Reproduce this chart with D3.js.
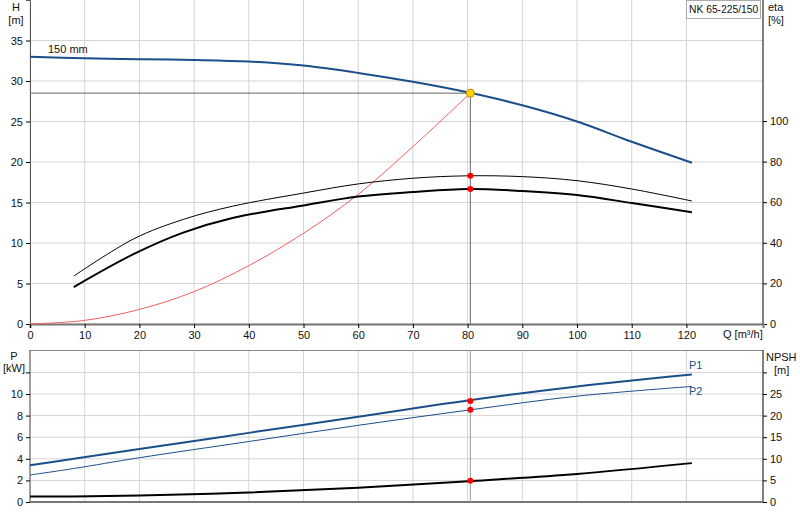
<!DOCTYPE html><html><head><meta charset="utf-8"><script src="https://cdn.jsdelivr.net/npm/d3@7"></script>
<style>body{margin:0;background:#fff}text{font-family:Arial,"Liberation Sans",sans-serif;font-size:11px;fill:#111}</style></head><body><svg id="c" width="800" height="520"></svg><script>
const xTicks=[0,10,20,30,40,50,60,70,80,90,100,110,120];
const hTicks=[0,5,10,15,20,25,30,35];
const etaTicks=[0,20,40,60,80,100];
const pTicks=[0,2,4,6,8,10];
const npshTicks=[0,5,10,15,20,25];
const hQ=[0,10,20,30,40,50,60,70,80,90,100,110,121];
const hVal=[33,32.8,32.7,32.6,32.4,31.9,31.0,29.9,28.6,27.0,25.0,22.5,19.9];
const etaQ=[8,19,28,37,50,60,70,80,90,100,110,121];
const eta1=[23.6,42,51.5,58,64.5,69,71.8,73,72.6,70.6,66.5,60.6];
const eta2=[18.2,34.5,45,52.2,58.4,62.8,65,66.5,65.5,63.5,59.6,55];
const sysQ=[0,10,20,30,40,50,60,70,80.5];
const sysH=[0,0.45,1.8,4,7.2,11.2,16,21.9,28.5];
const pQ=[0,8,20,40,60,80,100,121];
const p1=[3.4,4.0,4.9,6.4,7.9,9.4,10.7,11.8];
const p2=[2.5,3.1,4.1,5.6,7.1,8.5,9.8,10.7];
const npsh=[1.3,1.3,1.5,2.2,3.3,4.8,6.5,9.0];
const op={q:80.5,h:28.5,eta1:73,eta2:66.5,p1:9.35,p2:8.55,npsh:4.9};

const svg=d3.select("#c");
const L=30,R=763;
const x=d3.scaleLinear().domain([0,134]).range([L,R]);
const yH=d3.scaleLinear().domain([0,40]).range([324,0]);
const yE=d3.scaleLinear().domain([0,100]).range([324,121]);
const yP=d3.scaleLinear().domain([0,14]).range([502,350.8]);
const yN=d3.scaleLinear().domain([0,25]).range([502,394]);
const grid="#d4d4d4";
xTicks.forEach(t=>{svg.append("line").attr("x1",x(t)).attr("x2",x(t)).attr("y1",0).attr("y2",324).attr("stroke",grid);
 svg.append("line").attr("x1",x(t)).attr("x2",x(t)).attr("y1",350).attr("y2",502).attr("stroke",grid);});
hTicks.forEach(t=>svg.append("line").attr("x1",L).attr("x2",R).attr("y1",yH(t)).attr("y2",yH(t)).attr("stroke",grid));
pTicks.forEach(t=>svg.append("line").attr("x1",L).attr("x2",R).attr("y1",yP(t)).attr("y2",yP(t)).attr("stroke",grid));
svg.append("line").attr("x1",L).attr("x2",R).attr("y1",yP(12)).attr("y2",yP(12)).attr("stroke",grid);
svg.append("line").attr("x1",L).attr("x2",R).attr("y1",350.5).attr("y2",350.5).attr("stroke","#888");
svg.append("g").attr("transform",`translate(${L},0)`).call(d3.axisLeft(yH).tickValues(hTicks).tickSize(4)).call(g=>{g.select(".domain").attr("stroke","#555")});
svg.append("g").attr("transform",`translate(${R},0)`).call(d3.axisRight(yE).tickValues(etaTicks).tickSize(4).tickFormat(d=>d)).call(g=>{g.select(".domain").attr("d","M0,0V324")});
svg.append("g").attr("transform","translate(0,324)").call(d3.axisBottom(x).tickValues(xTicks).tickSize(4)).call(g=>{g.select(".domain").attr("stroke","#777").attr("stroke-width",2)});
svg.append("g").attr("transform",`translate(${L},0)`).call(d3.axisLeft(yP).tickValues(pTicks.concat([12])).tickSize(4).tickFormat(d=>d===12?"":d)).call(g=>{g.select(".domain").attr("d","M0,350V502").attr("stroke","#555")});
svg.append("g").attr("transform",`translate(${R},0)`).call(d3.axisRight(yN).tickValues(npshTicks.concat([30])).tickSize(4).tickFormat(d=>d===30?"":d)).call(g=>{g.select(".domain").attr("d","M0,350V502")});
svg.append("line").attr("x1",L).attr("x2",R).attr("y1",502).attr("y2",502).attr("stroke","#777").attr("stroke-width",2);
svg.selectAll(".tick text").style("font-size","11px");
const t=(s,X,Y,a)=>svg.append("text").attr("x",X).attr("y",Y).attr("text-anchor",a||"start").text(s);
t("H",16,11,"middle");t("[m]",16,24,"middle");t("eta",768,11);t("[%]",768,24);
t("P",14,360,"middle");t("[kW]",14,372,"middle");t("NPSH",766,361);t("[m]",774,374);
t("Q [m³/h]",723,338);t("150 mm",48,53);
svg.append("rect").attr("x",686.5).attr("y",0.5).attr("width",74).attr("height",18).attr("fill","#fff").attr("stroke","#aaa");
t("NK 65-225/150",689,13).style("font-size","10.3px");
const ln=(xs,ys,ys_,col,w)=>svg.append("path").datum(xs.map((q,i)=>[q,ys[i]])).attr("fill","none").attr("stroke",col).attr("stroke-width",w).attr("d",d3.line().x(d=>x(d[0])).y(d=>ys_(d[1])).curve(d3.curveCatmullRom));
svg.append("line").attr("x1",L).attr("x2",x(op.q)).attr("y1",yH(op.h)).attr("y2",yH(op.h)).attr("stroke","#666");
svg.append("line").attr("x1",x(op.q)).attr("x2",x(op.q)).attr("y1",yH(op.h)).attr("y2",324).attr("stroke","#666");
svg.append("line").attr("x1",x(op.q)).attr("x2",x(op.q)).attr("y1",350).attr("y2",502).attr("stroke","#999");
ln(sysQ,sysH,yH,"#f06060",1);
ln(hQ,hVal,yH,"#1a4f8a",2);
ln(etaQ,eta1,yE,"#000",1);
ln(etaQ,eta2,yE,"#000",2);
ln(pQ,p1,yP,"#1a4f8a",2);
ln(pQ,p2,yP,"#1a4f8a",1);
ln(pQ,npsh,yN,"#000",2);
t("P1",689,369).style("fill","#1a4f8a");t("P2",689,395).style("fill","#1a4f8a");
const dot=(yv,s,c)=>svg.append("circle").attr("cx",x(op.q)).attr("cy",s(yv)).attr("r",3).attr("fill",c);
dot(op.eta1,yE,"#f00");dot(op.eta2,yE,"#f00");dot(op.p1,yP,"#f00");dot(op.p2,yP,"#f00");dot(op.npsh,yN,"#f00");
svg.append("circle").attr("cx",x(op.q)).attr("cy",yH(op.h)).attr("r",4).attr("fill","#ffd700").attr("stroke","#e08000");
</script></body></html>
